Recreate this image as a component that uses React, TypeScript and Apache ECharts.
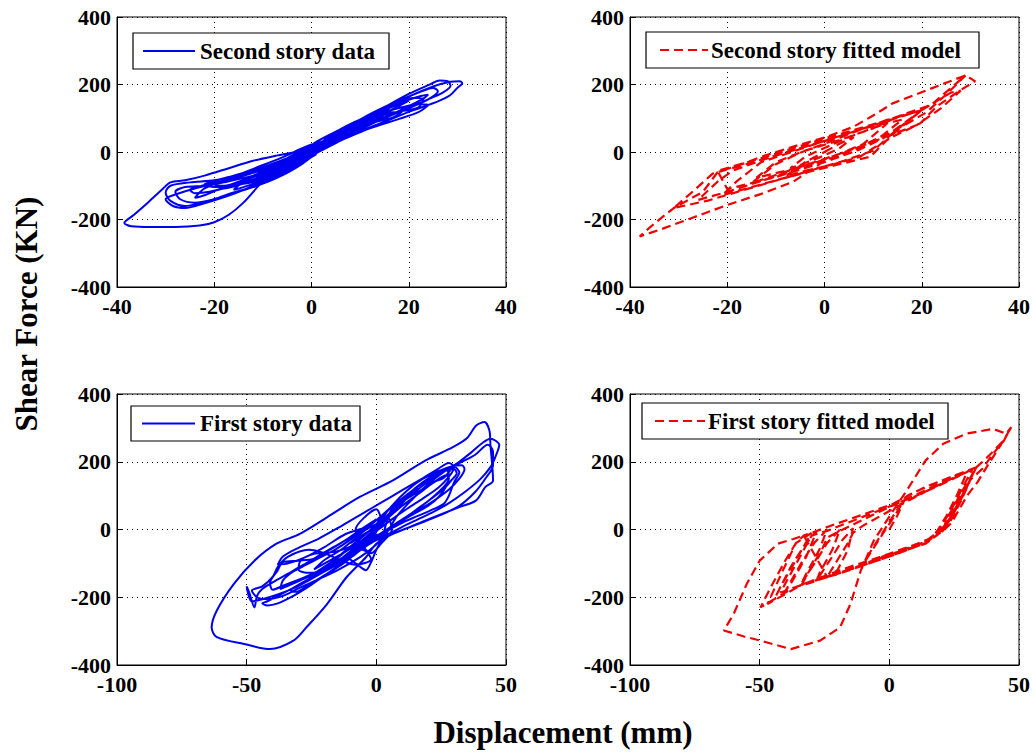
import React, { useEffect, useRef } from "react";
import * as echarts from "echarts";

const FONT = '"Liberation Serif", "Times New Roman", serif';

// Axis ranges (tick labels come from min/max/interval)
const upperXRange = { min: -40, max: 40, interval: 20 };
const lowerXRange = { min: -100, max: 50, interval: 50 };
const forceRange = { min: -400, max: 400, interval: 200 };

const seriesNames = [
  "Second story data",
  "Second story fitted model",
  "First story data",
  "First story fitted model",
];

// Second story: measured displacement (mm) vs shear force (kN)
const secondStoryData: number[][] = [
  [0, 0], [1.5, 12], [3, 28], [4.5, 42], [3.5, 36], [1, 12], [-1, -8], [-3, -26], [-4.5, -40], [-3.2, -34], [-1, -12], [1, 6],
  [3, 30], [5.5, 52], [7, 66], [5.5, 58], [2, 24], [-1, -4], [-4, -30], [-7, -55], [-8.5, -66], [-7, -62], [-3, -34], [0, -6],
  [2, 22], [5, 48], [8, 70], [9.5, 84], [8, 80], [5, 52], [1, 18], [-3, -14], [-7, -44], [-9, -58], [-8, -62], [-4, -40], [0, -10],
  [3, 26], [7, 64], [10, 88], [11.5, 98], [10, 92], [6, 58], [2, 22], [-2, -14], [-6, -44], [-10, -74], [-12.5, -88], [-11, -86], [-7, -62], [-2, -22],
  [0, 20], [5, 60], [10, 95], [14, 120], [16, 126], [14, 100], [10, 66], [5, 26], [0, -10], [-5, -48], [-10, -84], [-14, -104], [-16, -112], [-14, -88], [-10, -56], [-5, -18], [0, 20],
  [4, 40], [8, 74], [12, 98], [14, 112], [13, 104], [10, 86], [6, 48], [2, 14], [-3, -24], [-8, -52], [-13, -78], [-15, -90], [-14, -94], [-10, -80], [-5, -52], [-1, -16],
  [2, 18], [6, 54], [11, 96], [15, 124], [18, 142], [20, 152], [19, 144], [16, 122], [12, 96], [8, 64], [4, 32], [0, 2],
  [-5, -34], [-10, -64], [-14, -84], [-17, -98], [-19, -104], [-18, -108], [-15, -98], [-10, -76], [-5, -48], [0, -14],
  [3, 32], [7, 66], [10, 84], [13, 92], [16, 108], [17, 118], [15, 116], [12, 102], [8, 76], [3, 36], [-2, -4], [-6, -26],
  [-11, -50], [-16, -70], [-20, -86], [-22, -96], [-20, -104], [-16, -96], [-11, -78], [-6, -54], [-2, -20],
  [4, 50], [9, 90], [13, 110], [18, 130], [22, 142], [24, 140], [22, 118], [18, 98], [12, 70], [6, 34], [0, -2], [-6, -40], [-12, -72],
  [-18, -104], [-22, -128], [-24, -136], [-22, -108], [-18, -84], [-12, -50], [-6, -16], [0, 22],
  [4, 30], [9, 78], [14, 118], [19, 150], [22.5, 166], [24, 170], [23, 158], [20, 136], [16, 108], [11, 74], [6, 40], [1, 6],
  [-4, -22], [-9, -48], [-14, -70], [-19, -88], [-23, -102], [-25, -112], [-24, -122], [-21, -118], [-16, -100], [-10, -74], [-4, -40], [0, -8],
  [4, 22], [9, 62], [13, 88], [17, 104], [19, 128], [18, 134], [15, 112], [11, 84], [6, 56], [1, 20], [-4, -12], [-9, -40],
  [-14, -64], [-18, -78], [-21, -90], [-19, -100], [-14, -90], [-9, -66], [-4, -34], [0, 0],
  [5, 40], [10, 88], [15, 132], [20, 172], [24, 198], [26.4, 212], [28, 210], [28.6, 196], [27, 176], [23, 150], [18, 118], [12, 82], [6, 44], [0, 8],
  [-6, -30], [-12, -62], [-18, -88], [-24, -108], [-28, -126], [-30, -140], [-28.5, -160], [-26, -166], [-22, -152], [-16, -124], [-10, -88], [-4, -48], [1, -6],
  [-6, -40], [-12, -70], [-18, -90], [-22, -100], [-26, -104], [-28, -118], [-27, -140], [-24, -150], [-20, -140], [-17, -124], [-14, -112], [-10, -92], [-6, -66], [-2, -30],
  [-8, -40], [-14, -66], [-20, -84], [-25, -90], [-29, -100], [-30, -120], [-29, -145], [-26, -160], [-22, -148], [-18, -130], [-12, -104], [-7, -76], [-2, -36],
  [6, 50], [12, 100], [17, 140], [21, 160], [23, 158], [22, 132], [18, 120], [14, 106], [9, 76], [4, 38],
  [10, 96], [16, 140], [22, 176], [25, 190], [26, 180], [24, 156], [20, 130], [14, 98], [8, 62],
  [8, 72], [14, 124], [20, 164], [25, 194], [28.5, 208], [30.5, 210], [31, 204], [30, 190], [28.5, 168], [26, 150], [21, 124], [15, 90], [9, 56], [3, 20],
  [-3, -22], [-8, -58], [-11, -102], [-14, -150], [-17, -186], [-20, -208], [-23, -218], [-28, -222], [-33, -222], [-37, -220], [-38.5, -210],
  [-36.5, -186], [-33.5, -148], [-30.5, -108], [-29, -90], [-26, -84], [-22, -70], [-17, -48], [-12, -26], [-7, -10], [-2, 4], [2, 24],
  [6, 52], [10, 82], [8, 70], [3, 30], [-2, -8], [-7, -40], [-11, -64], [-13, -76], [-10, -68], [-5, -40], [0, -4], [4, 30], [2, 18], [0, 2],
];

// Second story: fitted hysteresis model
const secondStoryModel: number[][] = [
  [0, 0], [3, 24], [6, 44], [3, 10], [-1, -16], [-5, -38], [-7, -48], [-4, -14], [0, 12], [4, 38],
  [9, 66], [13, 86], [8, 24], [3, -6], [-5, -44], [-12, -78], [-15, -92], [-10, -36], [-5, -2], [1, 30], [8, 70],
  [16, 96], [12, 50], [6, 0], [0, -24], [-8, -56], [-14, -76], [-10, -30], [-4, 4], [2, 30], [10, 70],
  [15, 104], [20, 124], [14, 52], [9.4, -14], [2, -40], [-8, -76], [-16, -108], [-21, -128], [-18, -86], [-13, -30], [-8, -6], [-1, 28], [8, 70], [20, 124],
  [15, 68], [10, 4], [4, -26], [-6, -68], [-16, -110], [-24, -144], [-31, -166], [-27, -116], [-23, -64], [-17, -40], [-10, -10], [-3, 20], [5, 54], [13, 96], [20, 124],
  [12, 40], [7, 6], [0, -30], [-10, -74], [-20, -110], [-22, -56], [-12, -14], [0, 40], [10, 82], [20, 124],
  [23, 150], [26, 176], [28, 182], [24, 130], [19, 80], [14, 52], [8, 20], [0, -22], [-10, -72], [-20, -118], [-26, -142], [-22, -88], [-19, -56], [-12, -20], [-4, 16], [6, 60], [14, 100], [22, 140],
  [29, 227], [25, 170], [21, 118], [17, 84], [12, 48], [8, 20], [0, -26], [-6.4, -88], [-13, -124], [-20, -157], [-27, -194], [-33.8, -230], [-38, -250],
  [-35, -212], [-31, -166], [-25, -118], [-22, -60], [-17, -36], [-13, -14], [-6.4, 16], [0.5, 45], [6, 75], [10, 108], [14, 144], [21, 183], [25, 205], [29, 227],
  [30.6, 213], [31, 210], [27.9, 183], [23, 134], [19.7, 85], [14, 45], [10, 11], [7.3, -14], [2, -36], [-4, -56], [-8, -72], [-4, -30], [0, 0],
];

// First story: measured displacement (mm) vs shear force (kN)
const firstStoryData: number[][] = [
  [0, 0], [4, 35], [8, 62], [10, 76], [8, 66], [3, 28], [-2, -8], [-7, -42], [-10, -66], [-8, -58], [-3, -24], [1, 8],
  [6, 48], [12, 94], [16, 122], [14, 110], [9, 70], [3, 24], [-4, -26], [-10, -64], [-15, -94], [-18, -112], [-16, -108], [-10, -78], [-4, -38], [0, -6],
  [4, 30], [10, 70], [16, 104], [22, 138], [27, 160], [28, 150], [25, 118], [20, 84], [14, 50], [8, 20], [2, -10], [-4, -40], [-10, -70],
  [-16, -98], [-22, -124], [-28, -146], [-34, -166], [-37, -176], [-36, -150], [-32, -124], [-27, -104], [-22, -84], [-16, -60], [-10, -30], [-4, 6],
  [-12, -14], [-20, -52], [-28, -84], [-34, -100], [-38, -104], [-36, -80], [-30, -54], [-22, -26], [-14, 8], [-6, 44], [2, 80], [10, 116],
  [18, 152], [24, 180], [28, 196], [30, 184], [28, 156], [24, 124], [18, 92], [12, 62], [6, 30], [0, -4], [-6, -36], [-12, -66], [-18, -92], [-24, -118],
  [-20, -90], [-14, -62], [-8, -26], [-2, 14], [4, 54], [10, 92], [16, 126], [20, 148], [22, 158], [20, 132], [16, 104], [10, 70], [4, 36], [-2, 0],
  [-8, -40], [-14, -78], [-20, -112], [-26, -140], [-22, -120], [-16, -88],
  [6, 54], [12, 102], [18, 140], [24, 166], [28, 176], [30, 178], [31, 166], [29, 146], [26, 120], [21, 90], [15, 56], [9, 22], [3, -12], [-3, -44],
  [-9, -76], [-15, -104], [-21, -128], [-27, -150], [-31, -168], [-33, -180], [-31, -184], [-27, -168], [-21, -140], [-15, -112], [-10, -84], [-6, -52], [-3, -18], [0, 14],
  [2, 40], [8, 80], [14, 116], [20, 150], [25, 172], [27, 178], [28, 160], [27, 128], [24, 96], [20, 70], [14, 44], [8, 18], [2, -14], [-4, -46],
  [-12, -84], [-20, -114], [-28, -142], [-36, -166], [-40, -178], [-41, -158], [-38, -120], [-36, -96], [-30, -92], [-24, -86], [-18, -60], [-12, -32], [-6, 0], [0, 30],
  [-10, -40], [-4, -10], [2, 20], [0, 60], [-4, 40], [-8, 0], [-6, -40], [-2, -70], [2, -40], [6, 0], [4, 40], [0, 10],
  [6, 70], [12, 116], [18, 150], [24, 172], [29, 186], [33, 190], [34, 178], [32, 150], [28, 118], [22, 84], [16, 56], [10, 30], [4, 0], [-2, -30],
  [-8, -60], [-14, -92], [-20, -120], [-26, -148], [-32, -172], [-38, -196], [-42, -212], [-44, -218], [-42, -224], [-38, -218], [-32, -196], [-26, -168],
  [-20, -136], [-14, -104], [-8, -72], [-3, -36], [0, -8],
  [-8, -44], [-16, -66], [-24, -72], [-29, -90], [-30, -118], [-26, -128], [-20, -120], [-16, -96], [-12, -82], [-8, -100], [-4, -120], [-2, -96], [0, -60], [2, -30],
  [6, 62], [12, 92], [18, 120], [22, 140], [26, 152], [28, 170], [30, 186], [32, 168], [30, 140], [28, 100], [26, 76], [22, 60], [16, 40], [10, 20], [4, -4],
  [-2, -24], [-6, -36], [-10, -50], [-4, -64], [-2, -88], [-8, -104], [-14, -90], [-20, -70], [-26, -60], [-34, -80], [-38, -110], [-40, -140], [-44, -168],
  [-48, -180], [-46, -200], [-42, -206], [-36, -196], [-30, -174], [-22, -146], [-14, -116], [-6, -80], [0, -44], [4, -10],
  [8, 40], [14, 90], [20, 134], [26, 170], [32, 200], [37, 230], [41, 256], [44, 268], [46, 262], [47.4, 250], [46, 216], [44, 184], [40, 148], [34, 110], [28, 78],
  [22, 52], [16, 30], [10, 8], [4, -16], [-2, -40], [-8, -66], [-14, -94], [-20, -124], [-26, -150], [-32, -174], [-38, -192], [-44, -206], [-48, -212],
  [-50, -168], [-49, -186], [-47, -230], [-46, -196], [-44, -176], [-40, -156], [-34, -130], [-28, -104], [-22, -76], [-16, -50], [-10, -24], [-4, 0], [2, 26],
  [10, 80], [18, 130], [26, 172], [32, 196], [38, 220], [43, 250], [45, 230], [45, 190], [42, 150], [38, 110], [32, 70], [24, 40], [16, 16], [6.4, -13], [0, -42], [-4, -82],
  [-11.5, -141], [-19, -220], [-27, -289], [-32, -328], [-41, -353], [-51, -338], [-61.5, -318], [-63.5, -289], [-61.5, -239], [-55, -161], [-47, -92], [-38.5, -42],
  [-29.5, -13], [-19, 36], [-6.4, 96], [6.4, 145], [19, 204], [29.5, 243], [35, 270], [38.5, 307], [41.7, 317], [43.6, 292], [44, 250], [45, 145], [42, 125], [38.5, 86],
  [32, 66], [19, 27], [6.4, -13], [0, -30], [-4, -30], [0, 0],
];

// First story: fitted hysteresis model
const firstStoryModel: number[][] = [
  [0, 0], [3, 40], [6, 90], [2, 40], [-4, -30], [-9, -90], [-11, -110], [-6, -50], [-1, 10], [4, 70], [7, 100],
  [14, 126], [22, 150], [30, 172], [33.6, 184], [28, 110], [22, 30], [20.8, -3], [14, -42], [6, -60], [-2, -78], [-11, -106], [-20, -130], [-24, -140],
  [-20, -90], [-16, -40], [-14, -10], [-10, 12], [-2, 46], [6, 80], [14, 112], [24, 150], [30, 170], [26, 100], [22, 40], [18, -10], [14, -36], [4, -64], [-8, -96], [-18, -124], [-30, -156], [-34, -166],
  [-30, -110], [-26, -60], [-24, -24], [-20, -8], [-12, 22], [-4, 52], [4, 80], [14, 116], [26, 160], [32, 178], [28, 120], [24, 60], [20, 10], [16, -26], [8, -50], [-4, -82], [-16, -112], [-28, -146], [-38, -176], [-42, -186],
  [-38, -130], [-33, -60], [-30, -18], [-24, -4], [-14, 26], [-2, 62], [10, 98], [22, 140], [33.6, 184], [30, 130], [26, 70], [22, 14], [20, -4], [14, -40], [1.5, -76], [-11, -108], [-24, -141], [-37, -172], [-49.7, -230],
  [-45, -160], [-40, -90], [-36, -40], [-33, -18], [-20, 18], [-8, 50], [1.5, 76], [12, 118], [22, 150], [33.6, 184],
  [29, 120], [25, 60], [21, 0], [25, 50], [29, 110], [32, 160], [28, 90], [24, 30], [20, -10], [23, 40], [27, 100], [31, 150], [33.6, 184],
  [36, 200], [40, 230], [44, 262], [47, 302], [43, 250], [38, 190], [34, 140], [30, 100], [27, 60], [24, 20], [21, -2], [14, -40], [2, -74], [-10, -106],
  [-20, -132], [-33, -160], [-47, -220], [-41, -120], [-36, -40], [-30, -10], [-36, -90], [-42, -170], [-44, -200], [-38, -110], [-33, -50], [-28, -4],
  [-32, -80], [-38, -160], [-40, -180], [-34, -100], [-29, -40], [-24, 0], [-27, -60], [-32, -130], [-34, -160], [-28, -90], [-24, -40], [-19, 0],
  [-22, -60], [-27, -130], [-28, -150], [-22, -80], [-18, -30], [-14, 4], [-16, -60], [-20, -120], [-24, -140],
  [-33, -18], [-37, -28], [-43, -42], [-50, -92], [-55, -161], [-60, -249], [-63.8, -298],
  [-56, -316], [-49.7, -328], [-38, -353], [-26.7, -328], [-19, -289], [-15, -220], [-11, -121], [-6, -33], [1.5, 56], [6.7, 115], [14, 204], [20.8, 253], [29.7, 283], [40, 297], [45, 283], [47, 302],
  [44, 260], [40, 224], [36, 180], [31, 145], [27, 76], [24, 40], [20.8, 7], [14, -36], [6, -58], [0, -76], [-6, -90],
];

const grids = [
  { left: 117, top: 17, width: 389, height: 270 },
  { left: 630, top: 17, width: 389, height: 270 },
  { left: 117, top: 394, width: 389, height: 271 },
  { left: 630, top: 394, width: 389, height: 271 },
];

// Legend boxes: frame, sample line span and text anchor
const legendBoxes = [
  { x: 133, y: 33, w: 256, h: 36, lineFrom: 143, lineTo: 195, textX: 200 },
  { x: 646, y: 32, w: 333, h: 36, lineFrom: 660, lineTo: 708, textX: 711 },
  { x: 131, y: 406, w: 229, h: 35, lineFrom: 142, lineTo: 195, textX: 200 },
  { x: 642, y: 403, w: 306, h: 36, lineFrom: 655, lineTo: 705, textX: 708 },
];

const tickLabel = {
  fontFamily: FONT,
  fontWeight: "bold" as const,
  fontSize: 22,
  color: "#000",
};

function makeXAxis(gridIndex: number, range: { min: number; max: number; interval: number }) {
  return {
    type: "value",
    gridIndex,
    min: range.min,
    max: range.max,
    interval: range.interval,
    axisLine: { show: true, onZero: false, lineStyle: { color: "#000", width: 1 } },
    axisTick: { show: true, inside: true, length: 5, lineStyle: { color: "#000" } },
    splitLine: { show: true, lineStyle: { type: [1, 4], color: "#000", width: 1 } },
    axisLabel: { ...tickLabel, margin: 8 },
  };
}

function makeYAxis(gridIndex: number) {
  return {
    type: "value",
    gridIndex,
    min: forceRange.min,
    max: forceRange.max,
    interval: forceRange.interval,
    axisLine: { show: true, onZero: false, lineStyle: { color: "#000", width: 1 } },
    axisTick: { show: true, inside: true, length: 5, lineStyle: { color: "#000" } },
    splitLine: { show: true, lineStyle: { type: [1, 4], color: "#000", width: 1 } },
    axisLabel: { ...tickLabel, margin: 6 },
  };
}

const blueLine = { color: "#0000f0", width: 2, type: "solid" as any };
const redLine = { color: "#f00000", width: 2.2, type: [9, 5] as any };

export default function App() {
  const ref = useRef<HTMLDivElement>(null);

  useEffect(() => {
    if (!ref.current) return;
    const chart = echarts.init(ref.current, undefined, { renderer: "svg" });

    const datasets = [secondStoryData, secondStoryModel, firstStoryData, firstStoryModel];
    const styles = [blueLine, redLine, blueLine, redLine];

    const legendGraphics: any[] = [];
    legendBoxes.forEach((b, i) => {
      const midY = b.y + b.h / 2;
      legendGraphics.push(
        {
          type: "rect",
          z: 100,
          shape: { x: b.x, y: b.y, width: b.w, height: b.h },
          style: { fill: "#fff", stroke: "#000", lineWidth: 1.2 },
        },
        {
          type: "line",
          z: 101,
          shape: { x1: b.lineFrom, y1: midY, x2: b.lineTo, y2: midY },
          style: {
            stroke: styles[i].color,
            lineWidth: styles[i].width,
            lineDash: i % 2 === 1 ? [9, 5] : null,
          },
        },
        {
          type: "text",
          z: 101,
          x: b.textX,
          y: midY,
          style: {
            text: seriesNames[i],
            fontFamily: FONT,
            fontWeight: "bold",
            fontSize: 23,
            fill: "#000",
            align: "left",
            verticalAlign: "middle",
          },
        }
      );
    });

    chart.setOption({
      animation: false,
      backgroundColor: "#fff",
      grid: grids.map((g) => ({
        ...g,
        show: true,
        borderColor: "#000",
        borderWidth: 1,
        backgroundColor: "#fff",
        containLabel: false,
      })),
      xAxis: [
        makeXAxis(0, upperXRange),
        makeXAxis(1, upperXRange),
        makeXAxis(2, lowerXRange),
        makeXAxis(3, lowerXRange),
      ],
      yAxis: [makeYAxis(0), makeYAxis(1), makeYAxis(2), makeYAxis(3)],
      series: datasets.map((data, i) => ({
        name: seriesNames[i],
        type: "line",
        xAxisIndex: i,
        yAxisIndex: i,
        data,
        symbol: "none",
        showSymbol: false,
        smooth: i % 2 === 0 ? 0.3 : false,
        lineStyle: styles[i],
        itemStyle: { color: styles[i].color },
        z: 3,
      })),
      graphic: [
        ...legendGraphics,
        {
          type: "text",
          x: 26,
          y: 314,
          rotation: Math.PI / 2,
          style: {
            text: "Shear Force (KN)",
            fontFamily: FONT,
            fontWeight: "bold",
            fontSize: 31,
            fill: "#000",
            align: "center",
            verticalAlign: "middle",
          },
        },
        {
          type: "text",
          x: 563,
          y: 732,
          style: {
            text: "Displacement (mm)",
            fontFamily: FONT,
            fontWeight: "bold",
            fontSize: 31,
            fill: "#000",
            align: "center",
            verticalAlign: "middle",
          },
        },
      ],
    });

    return () => chart.dispose();
  }, []);

  return (
    <div
      ref={ref}
      style={{ position: "absolute", left: 0, top: 0, width: 1033, height: 754, background: "#fff" }}
    />
  );
}
